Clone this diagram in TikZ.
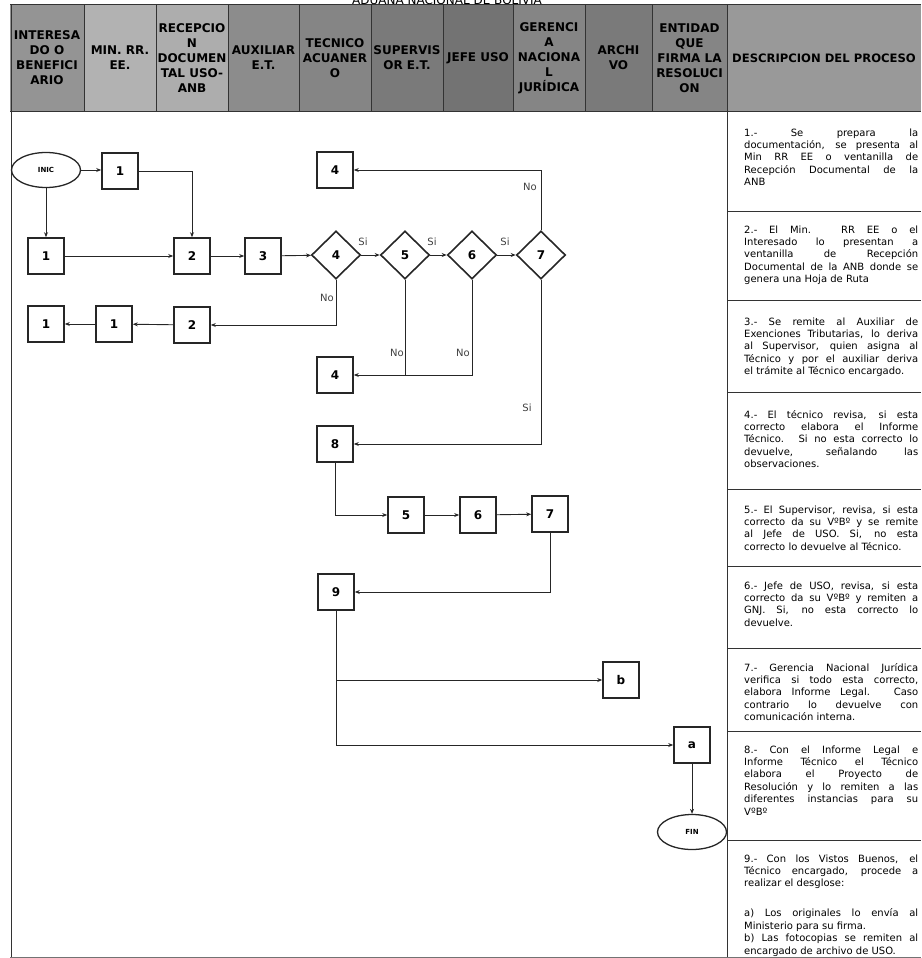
\documentclass[tikz,border=0pt]{standalone}
\usepackage{fontspec}
\setmainfont{DejaVu Sans}
\usetikzlibrary{shapes.geometric,arrows.meta}
\setlength{\parindent}{0pt}
\tolerance=9999
\hbadness=10000
\hyphenpenalty=10000
\begin{document}
\begin{tikzpicture}[x=1pt,y=-1pt,
  hdr/.style={font=\bfseries\fontsize{12}{15}\selectfont, align=center, inner sep=0},
  pbox/.style={draw=black!85, line width=1.6pt, minimum width=36pt, minimum height=36pt, inner sep=0, font=\bfseries\fontsize{12}{12}\selectfont},
  dia/.style={draw=black!85, diamond, line width=1.6pt, minimum width=49pt, minimum height=48pt, inner sep=0, font=\bfseries\fontsize{12}{12}\selectfont},
  term/.style={draw=black!85, ellipse, line width=1.3pt, minimum width=69pt, minimum height=35pt, inner sep=0, font=\bfseries\fontsize{7}{7}\selectfont},
  arr/.style={draw=black!85, line width=0.9pt, -{Stealth[length=5pt,width=4pt]}},
  ln/.style={draw=black!85, line width=0.9pt},
  lbl/.style={font=\fontsize{10}{10}\selectfont, text=black!75, inner sep=0},
  desc/.style={anchor=base west, text width=174pt, align=justify, inner sep=0, font=\fontsize{10}{12.4}\selectfont},
  frame/.style={draw=black!80, line width=1pt}
]
\useasboundingbox (0,0) rectangle (921,958);

% title (cut at top, as in the reference)
\node[font=\fontsize{12}{12}\selectfont, anchor=base] (title) at (447,4.5) {ADUANA NACIONAL DE BOLIVIA};

% header background
\fill[black!42] (10,5) rectangle (84,111);
\fill[black!30] (84,5) rectangle (156,111);
\fill[black!32] (156,5) rectangle (228,111);
\fill[black!45] (228,5) rectangle (299,111);
\fill[black!48] (299,5) rectangle (371,111);
\fill[black!52] (371,5) rectangle (443,111);
\fill[black!55] (443,5) rectangle (513,111);
\fill[black!48] (513,5) rectangle (585,111);
\fill[black!52] (585,5) rectangle (652,111);
\fill[black!48] (652,5) rectangle (727,111);
\fill[black!40] (727,5) rectangle (921,111);

% header lines
\foreach \xx in {84,156,228,299,371,443,513,585,652}
  \draw[frame] (\xx,5) -- (\xx,111);
\draw[frame] (10,5) -- (921,5);
\draw[frame] (10,111) -- (921,111);
\draw[frame] (11,5) -- (11,957);
\draw[frame] (727,5) -- (727,957);
\draw[draw=black!55, line width=1pt] (10,957) -- (921,957);

% header texts
\node[hdr] (h1) at (47,58) {INTERESA\\DO O\\BENEFICI\\ARIO};
\node[hdr] (h2) at (120,58) {MIN. RR.\\EE.};
\node[hdr] (h3) at (192,58) {RECEPCIO\\N\\DOCUMEN\\TAL USO-\\ANB};
\node[hdr] (h4) at (263.5,58) {AUXILIAR\\E.T.};
\node[hdr] (h5) at (335,58) {TECNICO\\ACUANER\\O};
\node[hdr] (h6) at (407,58) {SUPERVIS\\OR E.T.};
\node[hdr] (h7) at (478,58) {JEFE USO};
\node[hdr] (h8) at (549,58) {GERENCI\\A\\NACIONA\\L\\JURÍDICA};
\node[hdr] (h9) at (618.5,58) {ARCHI\\VO};
\node[hdr] (h10) at (689.5,58) {ENTIDAD\\QUE\\FIRMA LA\\RESOLUCI\\ON};
\node[hdr, font=\bfseries\fontsize{11.6}{14}\selectfont] (h11) at (824,58) {DESCRIPCION DEL PROCESO};

% description row separators
\foreach \yy in {211,300,392,489,566,648,731,840}
  \draw[frame] (727,\yy) -- (921,\yy);

% descriptions
\node[desc] (t1) at (744,136) {1.- Se prepara la\linebreak documentación, se presenta al\linebreak Min RR EE o ventanilla de\linebreak Recepción Documental de la\linebreak ANB};
\node[desc] (t2) at (744,233) {2.- El Min. RR EE o el\linebreak Interesado lo presentan a\linebreak ventanilla de Recepción\linebreak Documental de la ANB donde se\linebreak genera una Hoja de Ruta};
\node[desc] (t3) at (744,325) {3.- Se remite al Auxiliar de\linebreak Exenciones Tributarias, lo deriva\linebreak al Supervisor, quien asigna al\linebreak Técnico y por el auxiliar deriva\linebreak el trámite al Técnico encargado.};
\node[desc] (t4) at (744,418) {4.- El técnico revisa, si esta\linebreak correcto elabora el Informe\linebreak Técnico. Si no esta correcto lo\linebreak devuelve, señalando las\linebreak observaciones.};
\node[desc] (t5) at (744,513) {5.- El Supervisor, revisa, si esta\linebreak correcto da su VºBº y se remite\linebreak al Jefe de USO. Si, no esta\linebreak correcto lo devuelve al Técnico.};
\node[desc] (t6) at (744,589) {6.- Jefe de USO, revisa, si esta\linebreak correcto da su VºBº y remiten a\linebreak GNJ. Si, no esta correcto lo\linebreak devuelve.};
\node[desc] (t7) at (744,671) {7.- Gerencia Nacional Jurídica\linebreak verifica si todo esta correcto,\linebreak elabora Informe Legal. Caso\linebreak contrario lo devuelve con\linebreak comunicación interna.};
\node[desc] (t8) at (744,753) {8.- Con el Informe Legal e\linebreak Informe Técnico el Técnico\linebreak elabora el Proyecto de\linebreak Resolución y lo remiten a las\linebreak diferentes instancias para su\linebreak VºBº};
\node[desc] (t9) at (744,862) {9.- Con los Vistos Buenos, el\linebreak Técnico encargado, procede a\linebreak realizar el desglose:\par\vspace{17.6pt}a) Los originales lo envía al\linebreak Ministerio para su firma.\par b) Las fotocopias se remiten al\linebreak encargado de archivo de USO.};

% flowchart nodes
\node[term] (inic) at (46,170) {INIC};
\node[pbox] (b1a) at (120,171) {1};
\node[pbox] (b1b) at (46,256) {1};
\node[pbox] (b2a) at (192,256) {2};
\node[pbox] (b3) at (263,256) {3};
\node[dia] (d4) at (336,255) {4};
\node[dia] (d5) at (405,255) {5};
\node[dia] (d6) at (472,255) {6};
\node[dia] (d7) at (541,255) {7};
\node[pbox] (b4a) at (335,170) {4};
\node[pbox] (b2b) at (192,325) {2};
\node[pbox] (b1c) at (114,324) {1};
\node[pbox] (b1d) at (46,324) {1};
\node[pbox] (b4b) at (335,375) {4};
\node[pbox] (b8) at (335,444) {8};
\node[pbox] (b5) at (406,515) {5};
\node[pbox] (b6) at (478,515) {6};
\node[pbox] (b7) at (550,514) {7};
\node[pbox] (b9) at (336,592) {9};
\node[pbox] (bb) at (621,680) {b};
\node[pbox] (ba) at (692,745) {a};
\node[term] (fin) at (692,832) {FIN};

% connectors
\draw[arr] (inic.east) -- (inic.east -| b1a.west);
\draw[arr] (inic.south) -- (b1b.north);
\draw[arr] (b1b) -- (b2a);
\draw[arr] (b1a.east) -| (b2a.north);
\draw[arr] (b2a) -- (b3);
\draw[arr] (b3) -- (d4);
\draw[arr] (d4) -- (d5);
\draw[arr] (d5) -- (d6);
\draw[arr] (d6) -- (d7);
\node[lbl] (s4) at (363,242) {Si};
\node[lbl] (s5) at (432,242) {Si};
\node[lbl] (s6) at (505,242) {Si};
\draw[arr] (d7.north) |- (b4a.east);
\node[lbl] (n7) at (530,187) {No};
\draw[arr] (d4.south) |- (b2b.east);
\node[lbl] (n4) at (327,298) {No};
\draw[arr] (b2b) -- (b1c);
\draw[arr] (b1c) -- (b1d);
\draw[arr] (d6.south) |- (b4b.east);
\draw[ln] (d5.south) -- (d5.south |- b4b.east);
\node[lbl] (n5) at (397,353) {No};
\node[lbl] (n6) at (463,353) {No};
\draw[arr] (d7.south) |- (b8.east);
\node[lbl] (s7) at (527,408) {Si};
\draw[arr] (b8.south) |- (b5.west);
\draw[arr] (b5) -- (b6);
\draw[arr] (b6) -- (b7);
\draw[arr] (b7.south) |- (b9.east);
\draw[arr] (b9.south) |- (bb.west);
\draw[arr] (b9.south) |- (ba.west);
\draw[arr] (ba.south) -- (fin.north);
\end{tikzpicture}
\end{document}
